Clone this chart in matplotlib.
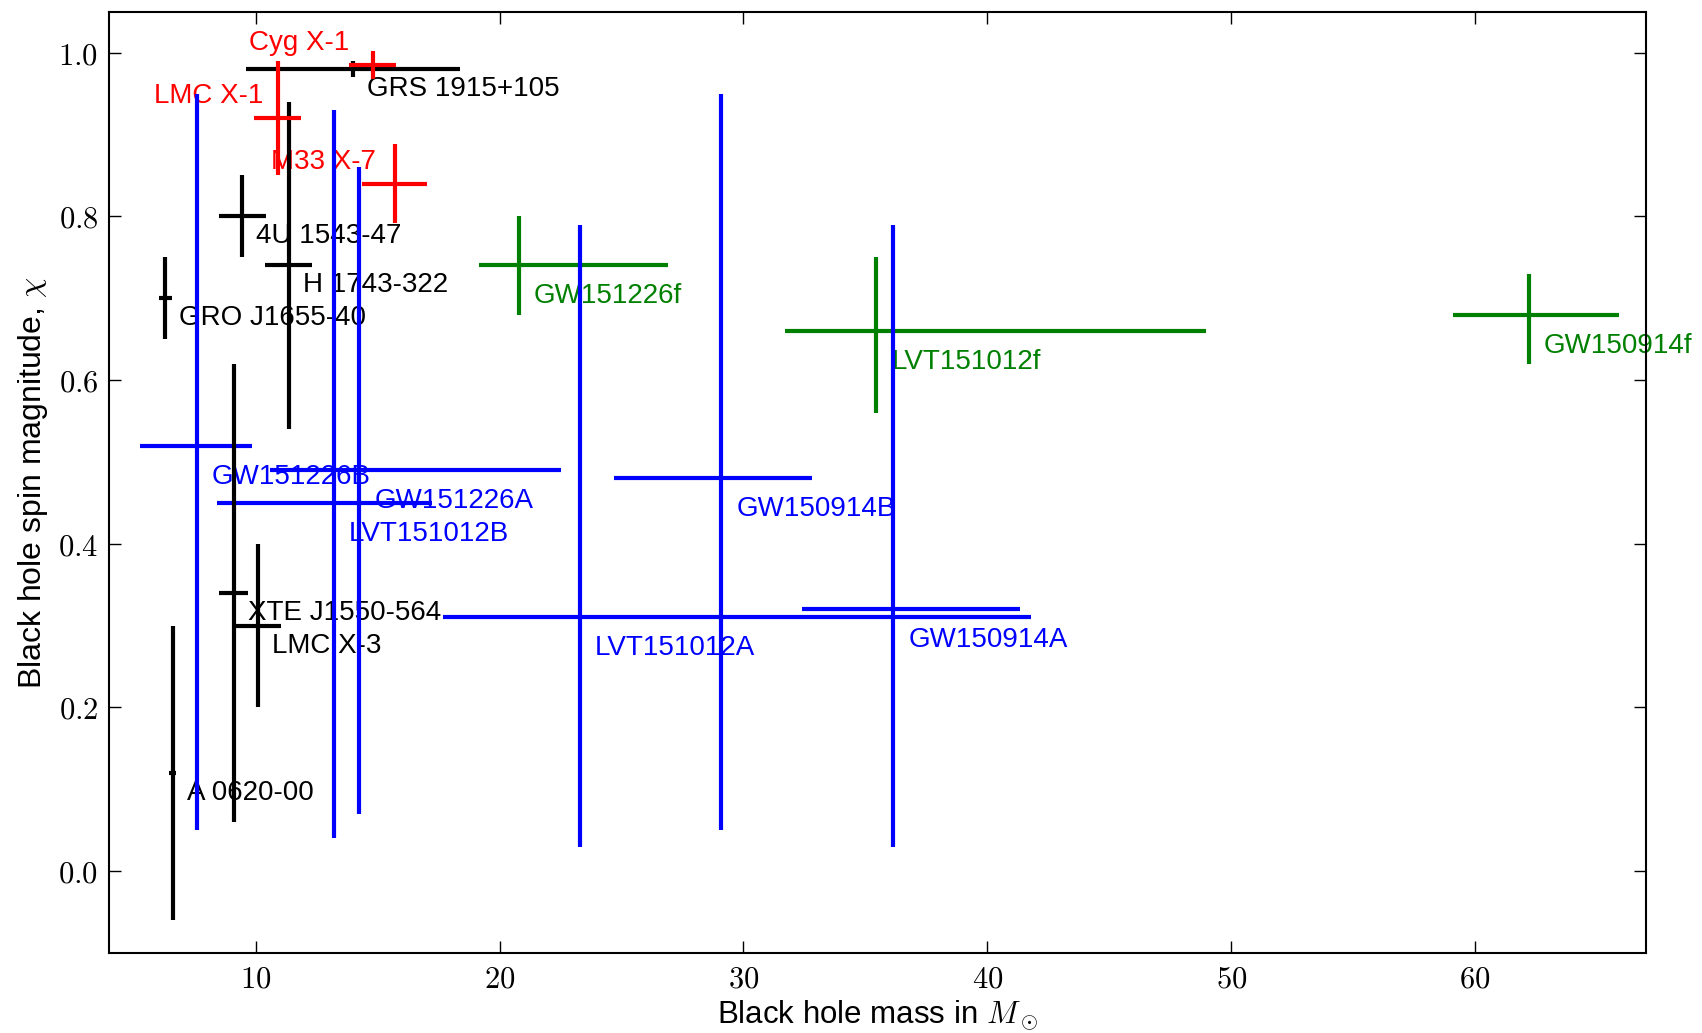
import matplotlib
matplotlib.use("Agg")
import matplotlib.pyplot as plt
from matplotlib.ticker import FuncFormatter

plt.rcParams['font.family'] = ['Liberation Sans', 'DejaVu Sans']
plt.rcParams['mathtext.fontset'] = 'cm'

# X-ray binaries (black): mass in Msun, spin, symmetric errors
xrb_names = ['GRS 1915+105', '4U 1543-47', 'H 1743-322', 'GRO J1655-40',
             'XTE J1550-564', 'LMC X-3', 'A 0620-00']
xrb_mass = [14.0, 9.45, 11.35, 6.3, 9.1, 10.1, 6.6]
xrb_mass_err = [4.4, 0.97, 0.96, 0.27, 0.6, 0.94, 0.15]
xrb_spin = [0.98, 0.80, 0.74, 0.70, 0.34, 0.30, 0.12]
xrb_spin_err = [0.01, 0.05, 0.20, 0.05, 0.28, 0.10, 0.18]

# high-mass X-ray binaries (red)
hm_names = ['Cyg X-1', 'LMC X-1', 'M33 X-7']
hm_mass = [14.8, 10.9, 15.7]
hm_mass_err = [0.96, 0.97, 1.33]
hm_spin = [0.985, 0.92, 0.84]
hm_spin_err = [0.017, 0.07, 0.048]

# LIGO component black holes (blue), asymmetric errors
gw_names = ['GW150914A', 'GW150914B', 'LVT151012A', 'LVT151012B',
            'GW151226A', 'GW151226B']
gw_mass = [36.15, 29.1, 23.3, 13.2, 14.25, 7.6]
gw_mass_lo = [3.75, 4.4, 5.6, 4.8, 3.65, 2.35]
gw_mass_hi = [5.2, 3.7, 18.5, 4.05, 8.27, 2.25]
gw_spin = [0.32, 0.48, 0.31, 0.45, 0.49, 0.52]
gw_spin_lo = [0.29, 0.43, 0.28, 0.41, 0.42, 0.47]
gw_spin_hi = [0.47, 0.47, 0.48, 0.48, 0.37, 0.43]

# LIGO final black holes (green)
fin_names = ['GW150914f', 'LVT151012f', 'GW151226f']
fin_mass = [62.2, 35.45, 20.8]
fin_mass_lo = [3.1, 3.75, 1.65]
fin_mass_hi = [3.7, 13.5, 6.1]
fin_spin = [0.68, 0.66, 0.74]
fin_spin_lo = [0.06, 0.10, 0.06]
fin_spin_hi = [0.05, 0.09, 0.06]

fig = plt.figure(figsize=(17.02, 10.33), dpi=100)
ax = fig.add_axes([0.0642, 0.0774, 0.9028, 0.9113])

fs = 20
lw = 3


def label(names, xs, ys, color, offset):
    for n, x, y in zip(names, xs, ys):
        ax.annotate(n, (x, y), xytext=offset, textcoords='offset pixels',
                    color=color, fontsize=fs, ha='left', va='baseline',
                    zorder=1.5)


ax.errorbar(fin_mass, fin_spin, xerr=[fin_mass_lo, fin_mass_hi],
            yerr=[fin_spin_lo, fin_spin_hi], fmt='none', ecolor='g',
            elinewidth=lw, capsize=0, zorder=2)
ax.errorbar(gw_mass, gw_spin, xerr=[gw_mass_lo, gw_mass_hi],
            yerr=[gw_spin_lo, gw_spin_hi], fmt='none', ecolor='b',
            elinewidth=lw, capsize=0, zorder=2.1)
ax.errorbar(xrb_mass, xrb_spin, xerr=xrb_mass_err, yerr=xrb_spin_err,
            fmt='none', ecolor='k', elinewidth=lw, capsize=0, zorder=2.2)
ax.errorbar(hm_mass, hm_spin, xerr=hm_mass_err, yerr=hm_spin_err,
            fmt='none', ecolor='r', elinewidth=lw, capsize=0, zorder=2.3)

label(xrb_names, xrb_mass, xrb_spin, 'k', (14, -27))
label(gw_names, gw_mass, gw_spin, 'b', (15, -38))
label(fin_names, fin_mass, fin_spin, 'g', (15, -38))
label(hm_names, hm_mass, hm_spin, 'r', (-124, 15))

ax.set_xlim(4, 67)
ax.set_ylim(-0.1, 1.05)
ax.set_xticks([10, 20, 30, 40, 50, 60])
ax.set_yticks([0.0, 0.2, 0.4, 0.6, 0.8, 1.0])
ax.xaxis.set_major_formatter(FuncFormatter(lambda v, p: '$%d$' % round(v)))
ax.yaxis.set_major_formatter(FuncFormatter(lambda v, p: '$%.1f$' % v))
ax.tick_params(direction='in', length=8.6, width=1, top=True, right=True,
               labelsize=22, pad=8)
for s in ax.spines.values():
    s.set_linewidth(1.5)

ax.set_xlabel(r'Black hole mass in $M_\odot$', fontsize=22.5, labelpad=3)
ax.set_ylabel(r'Black hole spin magnitude, $\chi$', fontsize=23, labelpad=6)

fig.savefig('out.png', dpi=100)
